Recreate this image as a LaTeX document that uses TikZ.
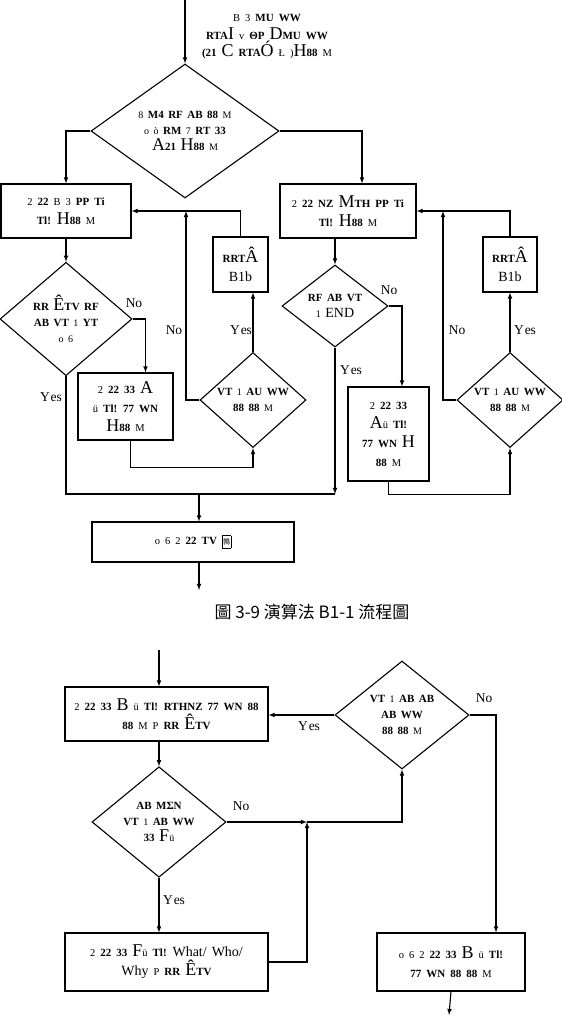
\documentclass[tikz,border=0pt]{standalone}
\usepackage{fontspec}
\setmainfont{Liberation Serif}
\newfontfamily\cjk{Noto Sans CJK TC}
\usetikzlibrary{shapes.geometric}
\tikzset{>=latex, % LaTeX arrow tips
  block/.style={draw, line width=1.1pt, fill=white, align=center, inner sep=2pt,
    font={\fontsize{10.5}{19}\selectfont\spaceskip=5pt plus 1pt}},
  decision/.style={draw, diamond, line width=1.1pt, align=center, inner sep=0pt,
    font={\fontsize{10}{16}\selectfont\spaceskip=4.5pt plus 1pt}},
  flow/.style={line width=1.1pt},
  tag/.style={inner sep=0pt, font={\fontsize{13.5}{13}\selectfont}},
  flow chart/.style={x=1pt, y=-1pt},
}
\newcommand{\gb}[1]{{\fontsize{11}{10}\selectfont\bfseries #1}}
\newcommand{\gl}[1]{{\fontsize{18}{16}\selectfont #1}}
\newcommand{\gm}[1]{{\fontsize{14}{14}\selectfont #1}}

\begin{document}
\begin{tikzpicture}[flow chart]
  \useasboundingbox (0,0) rectangle (562,1017);

  % algorithm B1-1
  \coordinate (start1) at (185,0);
  \node [align=center, font={\fontsize{10.5}{17.5}\selectfont\spaceskip=5pt plus 1pt}] (note) at (267,37)
    {B 3 \gb{MU WW}\\ \gb{RTA}\gl{I} v \gb{ΘP} \gl{D}\gb{MU WW}\\
     \gb{(21} \gl{C} \gb{RTA}\gl{Ó} Ł )\gl{H}\gb{88} M};
  \node [decision, minimum width=188pt, minimum height=134pt] (d1) at (185,131)
    {8 \gb{M4 RF AB 88} M\\ o ò \gb{RM} 7 \gb{RT 33}\\ \gl{A}\gb{21} \gl{H}\gb{88} M};
  \node [block, minimum width=130pt, minimum height=54pt] (b1) at (66,211)
    {2 \gb{22} B 3 \gb{PP Ti}\\ \gb{Tl!} \gl{H}\gb{88} M};
  \node [block, minimum width=136pt, minimum height=54pt] (b2) at (348,211)
    {2 \gb{22 NZ} \gl{M}\gb{TH PP Ti}\\ \gb{Tl!} \gl{H}\gb{88} M};
  \node [decision, minimum width=132pt, minimum height=106pt] (d2) at (66,319)
    {\gb{RR} \gl{Ê}\gb{TV RF}\\ \gb{AB VT} 1 \gb{YT}\\ o 6};
  \node [block, minimum width=95pt, minimum height=67pt] (b3) at (125.5,406.5)
    {2 \gb{22 33} \gl{A}\\ ü \gb{Tl! 77 WN}\\ \gl{H}\gb{88} M};
  \node [decision, minimum width=106pt, minimum height=80pt] (dL) at (253,400)
    {\gb{VT} 1 \gb{AU WW}\\ \gb{88 88} M};
  \node [block, minimum width=55pt, minimum height=55pt] (rL) at (240.5,264.5)
    {\gb{RRT}\gl{Â}\\ \gm{B1b}};
  \node [decision, minimum width=106pt, minimum height=82pt] (d3) at (335,306)
    {\gb{RF AB VT}\\ 1 \gm{END}};
  \node [block, minimum width=81pt, minimum height=94pt] (b4) at (388.5,434)
    {2 \gb{22 33}\\ \gl{A}ü \gb{Tl!}\\ \gb{77 WN} \gl{H}\\ \gb{88} M};
  \node [decision, minimum width=106pt, minimum height=80pt] (dR) at (510,400)
    {\gb{VT} 1 \gb{AU WW}\\ \gb{88 88} M};
  \node [block, minimum width=54pt, minimum height=55pt] (rR) at (510,264.5)
    {\gb{RRT}\gl{Â}\\ \gm{B1b}};
  \coordinate (jL) at (186,211);
  \coordinate (jR) at (443,211);
  \coordinate (m1) at (199,494);
  \coordinate (jm) at (335,494);
  \node [block, minimum width=202pt, minimum height=40pt] (b5) at (193,542)
    {o 6 2 \gb{22 TV} \framebox[9pt][c]{\cjk\fontsize{7}{7}\selectfont 鶉}};
  \coordinate (end1) at (199,590);
  \node [font={\cjk\fontsize{17}{17}\selectfont}] (cap) at (312,612)
    {圖 3-9 演算法 B1-1 流程圖};

  \draw [flow,->] (start1) -- (d1.north);
  \draw [flow,->] (d1.west) -| (b1.north);
  \draw [flow,->] (d1.east) -| ([xshift=14pt]b2.north);
  \draw [flow,->] (b1.south) -- (d2.north);
  \draw [flow,->] (b2.south -| d3.north) -- (d3.north);
  \draw [flow,->] (d2.east) -| ([xshift=20pt]b3.north);
  \draw [flow,->] ([xshift=5pt]b3.south) -- ++(0,27) -| (dL.south);
  \draw [flow,->] (dL.north) -- (dL.north |- rL.south);
  \draw [flow,->] (rL.north) |- (b1.east);
  \draw [flow,->] (dL.west) -| (jL);
  \draw [flow,->] (d3.east) -| ([xshift=13.5pt]b4.north);
  \draw [flow,->] (b4.south) -- ++(0,13) -| (dR.south);
  \draw [flow,->] (dR.north) -- (rR.south);
  \draw [flow,->] (rR.north) |- (b2.east);
  \draw [flow,->] (dR.west) -| (jR);
  \draw [flow] (d2.south) |- (jm);
  \draw [flow,->] (d3.south) -- (jm);
  \draw [flow,->] (m1) -- (m1 |- b5.north);
  \draw [flow,->] (m1 |- b5.south) -- (end1);

  \node [tag] (no2) at (134,303) {No};
  \node [tag] (yes2) at (51,397) {Y\kern1pt es};
  \node [tag] (noL) at (174,330) {No};
  \node [tag] (yesL) at (241,330) {Y\kern1pt es};
  \node [tag] (no3) at (389,290) {No};
  \node [tag] (yes3) at (351,370) {Y\kern1pt es};
  \node [tag] (noR) at (457,330) {No};
  \node [tag] (yesR) at (525,330) {Y\kern1pt es};

  % question steps
  \coordinate (start2) at (159,650);
  \node [block, minimum width=203pt, minimum height=54pt] (b6) at (166.5,714)
    {2 \gb{22 33} \gl{B} ü \gb{Tl! RTHNZ 77 WN 88}\\ \gb{88} M P \gb{RR} \gl{Ê}\gb{TV}};
  \node [decision, minimum width=134pt, minimum height=108pt] (d5) at (159,822)
    {\gb{AB MΣN}\\ \gb{VT} 1 \gb{AB WW}\\ \gb{33} \gl{F}ü};
  \node [decision, minimum width=134pt, minimum height=108pt] (d6) at (402,715)
    {\gb{VT} 1 \gb{AB AB}\\ \gb{AB WW}\\ \gb{88 88} M};
  \node [block, minimum width=203pt, minimum height=58pt] (b7) at (166.5,962)
    {2 \gb{22 33} \gl{F}ü \gb{Tl!} \gm{What/ Who/}\\ \gm{Why} P \gb{RR} \gl{Ê}\gb{TV}};
  \node [block, minimum width=148pt, minimum height=58pt] (b8) at (451,962)
    {o 6 2 \gb{22 33} \gl{B} ü \gb{Tl!}\\ \gb{77 WN 88 88} M};
  \coordinate (j2) at (307,822);
  \coordinate (end2) at (449,1015);

  \draw [flow,->] (start2) -- (start2 |- b6.north);
  \draw [flow,->] (b6.south -| d5.north) -- (d5.north);
  \draw [flow,->] (d5.east) -- (j2);
  \draw [flow,->] (j2) -| (d6.south);
  \draw [flow,->] (b7.east) -| (j2);
  \draw [flow,->] (d5.south) -- (d5.south |- b7.north);
  \draw [flow,->] (d6.west) -- (d6.west -| b6.east);
  \draw [flow,->] (d6.east) -| ([xshift=45pt]b8.north);
  \draw [flow,->] (b8.south) -- (end2);

  \node [tag] (yes6) at (309,726) {Y\kern1pt es};
  \node [tag] (no6) at (484,698) {No};
  \node [tag] (no5) at (241,806) {No};
  \node [tag] (yes5) at (174,900) {Y\kern1pt es};
\end{tikzpicture}
\end{document}
